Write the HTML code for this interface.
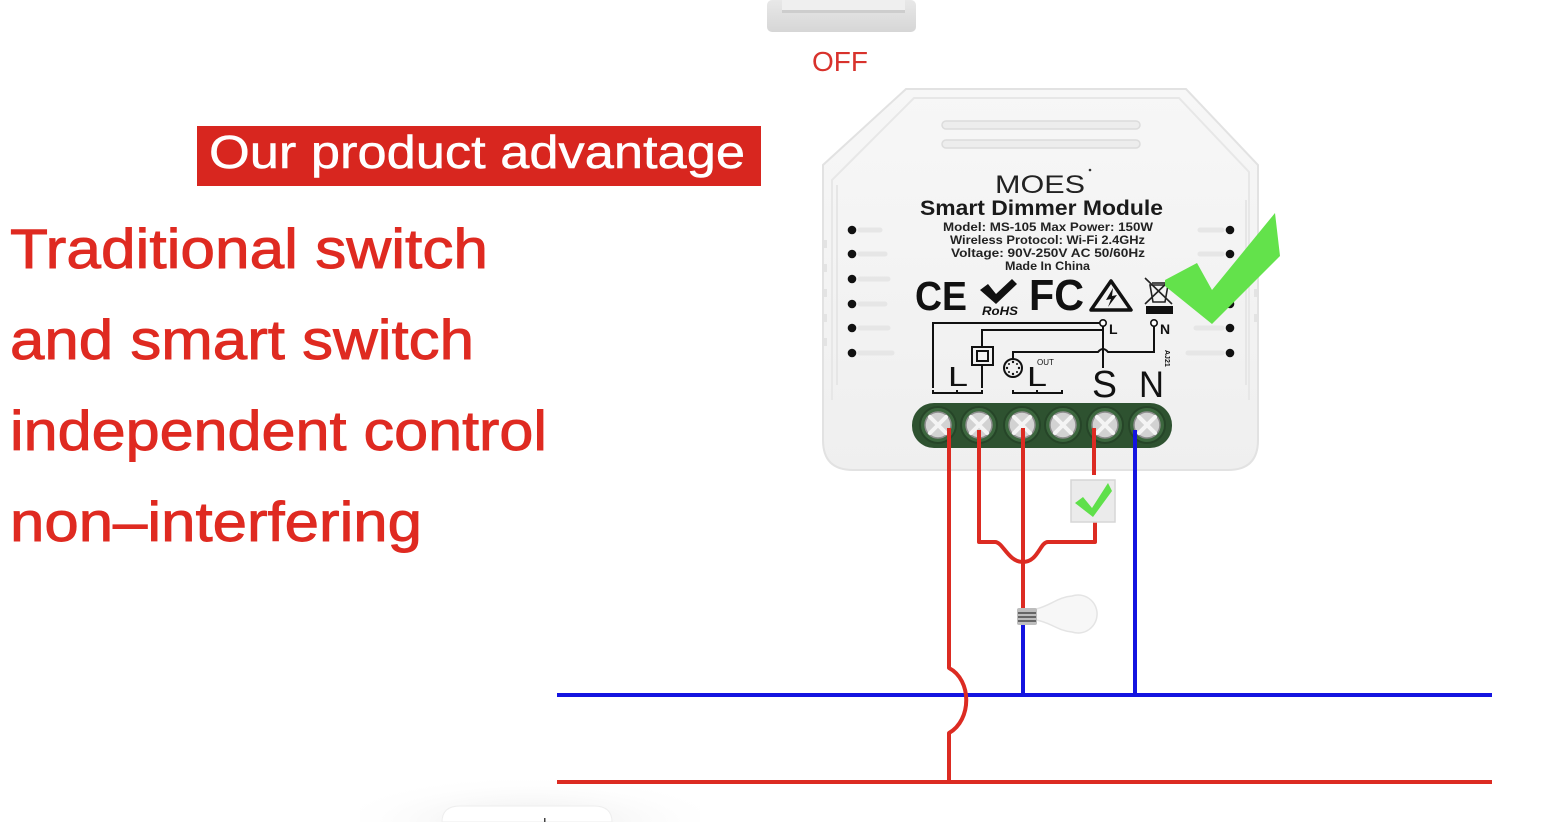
<!DOCTYPE html>
<html>
<head>
<meta charset="utf-8">
<style>
  html,body{margin:0;padding:0;background:#fff;}
  body{width:1552px;height:822px;overflow:hidden;}
  svg{display:block;}
  text{font-family:"Liberation Sans", Arial, sans-serif;}
</style>
</head>
<body>
<svg width="1552" height="822" viewBox="0 0 1552 822" xmlns="http://www.w3.org/2000/svg">
  <defs>
    <linearGradient id="body" x1="0" y1="0" x2="0" y2="1">
      <stop offset="0" stop-color="#f7f7f7"/>
      <stop offset="1" stop-color="#efefef"/>
    </linearGradient>
    <linearGradient id="plate" x1="0" y1="0" x2="0" y2="1">
      <stop offset="0" stop-color="#e8e8e8"/>
      <stop offset="1" stop-color="#d6d6d6"/>
    </linearGradient>
    <radialGradient id="glow" cx="0.5" cy="1" r="0.6">
      <stop offset="0" stop-color="#e9e9e9"/>
      <stop offset="1" stop-color="#ffffff" stop-opacity="0"/>
    </radialGradient>
  </defs>

  <rect x="0" y="0" width="1552" height="822" fill="#ffffff"/>

  <!-- top switch -->
  <rect x="767" y="0" width="149" height="32" rx="5" fill="url(#plate)"/>
  <rect x="782" y="0" width="123" height="13" fill="#efefef"/>
  <rect x="782" y="10" width="123" height="3" fill="#cdcdcd"/>
  <text x="812" y="71" font-size="28" fill="#d8322c" textLength="56" lengthAdjust="spacingAndGlyphs">OFF</text>

  <!-- banner -->
  <rect x="197" y="126" width="564" height="60" fill="#d8261f"/>
  <text x="209" y="168" font-size="46" fill="#ffffff" stroke="#ffffff" stroke-width="0.5" textLength="536" lengthAdjust="spacingAndGlyphs">Our product advantage</text>

  <!-- left text -->
  <g fill="#df2a21" stroke="#df2a21" stroke-width="0.9" font-size="56">
    <text x="10" y="268" textLength="478" lengthAdjust="spacingAndGlyphs">Traditional switch</text>
    <text x="10" y="359" textLength="464" lengthAdjust="spacingAndGlyphs">and smart switch</text>
    <text x="10" y="450" textLength="537" lengthAdjust="spacingAndGlyphs">independent control</text>
    <text x="10" y="541" textLength="412" lengthAdjust="spacingAndGlyphs">non–interfering</text>
  </g>

  <!-- module body -->
  <path d="M906,89 H1186 L1258,165 V440 Q1258,470 1228,470 H853 Q823,470 823,440 V165 Z" fill="url(#body)" stroke="#e2e2e2" stroke-width="2"/>
  <path d="M832,400 V180 L914,98 H1179 L1249,172 V400" fill="none" stroke="#e7e7e7" stroke-width="2"/>
  <line x1="837" y1="185" x2="837" y2="385" stroke="#e6e6e6" stroke-width="2"/>
  <line x1="1246" y1="200" x2="1246" y2="385" stroke="#e6e6e6" stroke-width="2"/>
  <g fill="#e3e3e3">
    <rect x="824" y="240" width="3" height="8"/><rect x="824" y="264" width="3" height="8"/>
    <rect x="824" y="289" width="3" height="8"/><rect x="824" y="314" width="3" height="8"/>
    <rect x="824" y="338" width="3" height="8"/>
    <rect x="1254" y="240" width="3" height="8"/><rect x="1254" y="289" width="3" height="8"/>
    <rect x="1254" y="314" width="3" height="8"/>
  </g>

  <!-- vent slots -->
  <rect x="942" y="121" width="198" height="8" rx="4" fill="#ededed" stroke="#dcdcdc" stroke-width="1.5"/>
  <rect x="942" y="140" width="198" height="8" rx="4" fill="#ededed" stroke="#dcdcdc" stroke-width="1.5"/>

  <!-- side slots & dots -->
  <g stroke="#e6e6e6" stroke-width="5" stroke-linecap="round">
    <line x1="860" y1="230" x2="880" y2="230"/><line x1="860" y1="254" x2="885" y2="254"/>
    <line x1="860" y1="279" x2="888" y2="279"/><line x1="860" y1="304" x2="885" y2="304"/>
    <line x1="860" y1="328" x2="888" y2="328"/><line x1="860" y1="353" x2="892" y2="353"/>
    <line x1="1200" y1="230" x2="1222" y2="230"/><line x1="1200" y1="254" x2="1222" y2="254"/>
    <line x1="1196" y1="304" x2="1222" y2="304"/><line x1="1196" y1="328" x2="1222" y2="328"/>
    <line x1="1188" y1="353" x2="1222" y2="353"/>
  </g>
  <g fill="#111">
    <circle cx="852" cy="230" r="4.3"/><circle cx="852" cy="254" r="4.3"/>
    <circle cx="852" cy="279" r="4.3"/><circle cx="852" cy="304" r="4.3"/>
    <circle cx="852" cy="328" r="4.3"/><circle cx="852" cy="353" r="4.3"/>
    <circle cx="1230" cy="230" r="4.3"/><circle cx="1230" cy="254" r="4.3"/>
    <circle cx="1230" cy="304" r="4.3"/><circle cx="1230" cy="328" r="4.3"/>
    <circle cx="1230" cy="353" r="4.3"/>
  </g>

  <!-- label text -->
  <text x="995" y="193" font-size="25" fill="#222" textLength="90" lengthAdjust="spacingAndGlyphs">MOES</text>
  <circle cx="1090" cy="170" r="1.3" fill="#333"/>
  <text x="920" y="215" font-size="21" font-weight="bold" fill="#1a1a1a" textLength="243" lengthAdjust="spacingAndGlyphs">Smart Dimmer Module</text>
  <g font-size="12" font-weight="bold" fill="#222">
    <text x="943" y="231" textLength="210" lengthAdjust="spacingAndGlyphs">Model: MS-105 Max Power: 150W</text>
    <text x="950" y="244" textLength="195" lengthAdjust="spacingAndGlyphs">Wireless Protocol: Wi-Fi 2.4GHz</text>
    <text x="951" y="257" textLength="194" lengthAdjust="spacingAndGlyphs">Voltage: 90V-250V AC 50/60Hz</text>
    <text x="1005" y="270" textLength="85" lengthAdjust="spacingAndGlyphs">Made In China</text>
  </g>

  <!-- cert icons -->
  <text x="915" y="310" font-size="41" font-weight="bold" fill="#111" textLength="52" lengthAdjust="spacingAndGlyphs">CE</text>
  <polygon points="980,290 988,284 996,294 1012,279 1017,284 996,304" fill="#111"/>
  <text x="982" y="315" font-size="12" font-weight="bold" font-style="italic" fill="#111" textLength="36" lengthAdjust="spacingAndGlyphs">RoHS</text>
  <text x="1029" y="310" font-size="44" font-weight="bold" fill="#111" textLength="55" lengthAdjust="spacingAndGlyphs">FC</text>
  <polygon points="1111,281 1131,310 1091,310" fill="none" stroke="#111" stroke-width="3.5" stroke-linejoin="round"/>
  <polygon points="1113,288 1106,300 1111,299 1108,307 1117,295 1112,296" fill="#111"/>
  <g stroke="#222" stroke-width="1.6" fill="none">
    <line x1="1145" y1="278" x2="1172" y2="304"/>
    <line x1="1172" y1="278" x2="1145" y2="304"/>
    <path d="M1150,285 H1168 L1165,302 H1153 Z"/>
    <line x1="1152" y1="283" x2="1166" y2="283"/>
  </g>
  <rect x="1146" y="306" width="27" height="8" fill="#111"/>

  <!-- wiring diagram on label -->
  <g stroke="#111" stroke-width="2" fill="none">
    <polyline points="933,388 933,323 1100,323"/>
    <polyline points="982,347 982,330 1103,330"/>
    <line x1="982" y1="365" x2="982" y2="388"/>
    <rect x="972" y="347" width="21" height="18"/>
    <rect x="977" y="351" width="11" height="10"/>
    <line x1="1103" y1="326" x2="1103" y2="368"/>
    <path d="M1013,359 V352 H1098 Q1103,346 1108,352 H1154 V326"/>
    <circle cx="1013" cy="368" r="9"/>
    <polyline points="933,390 933,393 982,393 982,390"/>
    <line x1="957" y1="393" x2="957" y2="390"/>
    <polyline points="1013,390 1013,393 1062,393 1062,390"/>
    <line x1="1037" y1="393" x2="1037" y2="390"/>
  </g>
  <circle cx="1103" cy="323" r="3.2" fill="#fff" stroke="#111" stroke-width="1.6"/>
  <circle cx="1154" cy="323" r="3.2" fill="#fff" stroke="#111" stroke-width="1.6"/>
  <g fill="#111">
    <circle cx="1013" cy="362" r="1.2"/><circle cx="1013" cy="374" r="1.2"/>
    <circle cx="1007" cy="368" r="1.2"/><circle cx="1019" cy="368" r="1.2"/>
    <circle cx="1009" cy="364" r="1"/><circle cx="1017" cy="364" r="1"/>
    <circle cx="1009" cy="372" r="1"/><circle cx="1017" cy="372" r="1"/>
  </g>
  <g fill="#111">
    <text x="1109" y="334" font-size="14" font-weight="bold">L</text>
    <text x="1160" y="334" font-size="14" font-weight="bold">N</text>
    <text x="948" y="386" font-size="28" textLength="20" lengthAdjust="spacingAndGlyphs">L</text>
    <text x="1027" y="386" font-size="28" textLength="20" lengthAdjust="spacingAndGlyphs">L</text>
    <text x="1037" y="365" font-size="8">OUT</text>
    <text x="1092" y="397" font-size="38" textLength="25" lengthAdjust="spacingAndGlyphs">S</text>
    <text x="1139" y="397" font-size="37" textLength="25" lengthAdjust="spacingAndGlyphs">N</text>
    <text x="0" y="0" font-size="7" font-weight="bold" transform="translate(1165,350) rotate(90)">AJ21</text>
  </g>

  <!-- terminal block -->
  <rect x="912" y="403" width="260" height="45" rx="22" fill="#2e5230"/>
  <g fill="#3c673e" stroke="#264528" stroke-width="2">
    <circle cx="938" cy="425" r="18"/>
    <circle cx="979" cy="425" r="18"/>
    <circle cx="1022" cy="425" r="18"/>
    <circle cx="1063" cy="425" r="18"/>
    <circle cx="1105" cy="425" r="18"/>
    <circle cx="1147" cy="425" r="18"/>
  </g>
  <g fill="#d2d2d2" stroke="#8d8d8d" stroke-width="1.5">
    <circle cx="938" cy="425" r="13"/><circle cx="979" cy="425" r="13"/>
    <circle cx="1022" cy="425" r="13"/><circle cx="1063" cy="425" r="13"/>
    <circle cx="1105" cy="425" r="13"/><circle cx="1147" cy="425" r="13"/>
  </g>
  <g stroke="#f4f4f4" stroke-width="4" stroke-linecap="round">
    <path d="M930,417 L946,433 M946,417 L930,433"/>
    <path d="M971,417 L987,433 M987,417 L971,433"/>
    <path d="M1014,417 L1030,433 M1030,417 L1014,433"/>
    <path d="M1055,417 L1071,433 M1071,417 L1055,433"/>
    <path d="M1097,417 L1113,433 M1113,417 L1097,433"/>
    <path d="M1139,417 L1155,433 M1155,417 L1139,433"/>
  </g>

  <!-- big green check -->
  <polygon points="1165,280 1197,263 1212,290 1275,213 1280,256 1212,324 1165,286" fill="#63e24b"/>

  <!-- bottom-left faint element -->
  <rect x="360" y="742" width="340" height="80" fill="url(#glow)"/>
  <path d="M442,822 V824 M442,822 V822 Q442,806 460,806 H594 Q612,806 612,822 Z" fill="#ffffff" stroke="#eeeeee" stroke-width="1"/>
  <rect x="544" y="818" width="1.5" height="4" fill="#444"/>

  <!-- mains lines -->
  <line x1="557" y1="695" x2="1492" y2="695" stroke="#1414e0" stroke-width="4"/>
  <line x1="557" y1="782" x2="1492" y2="782" stroke="#dc2b22" stroke-width="4"/>

  <!-- wires -->
  <g fill="none" stroke-width="4" stroke-linejoin="round">
    <path d="M949,428 V668 C972,680 972,720 949,733 V782" stroke="#dc2b22"/>
    <path d="M979,430 V542 H995 C1003,542 1008,562 1023,562 C1038,562 1040,542 1048,542 H1095 V522" stroke="#dc2b22"/>
    <path d="M1023,428 V610" stroke="#dc2b22"/>
    <path d="M1094,428 V475" stroke="#dc2b22"/>
    <path d="M1135,430 V695" stroke="#1414e0"/>
    <path d="M1023,624 V695" stroke="#1414e0"/>
  </g>

  <!-- small checkbox -->
  <rect x="1071" y="480" width="44" height="42" fill="#ebebeb" stroke="#d6d6d6" stroke-width="1.5"/>
  <polygon points="1075,503 1083,497 1092,508 1108,483 1112,491 1093,517" fill="#5fe04a"/>

  <!-- bulb -->
  <path d="M1036,609 C1050,606 1058,597 1072,596 A19,19 0 1 1 1072,632 C1058,631 1050,622 1036,620 Z" fill="#f7f7f7" stroke="#e4e4e4" stroke-width="1.5"/>
  <rect x="1017" y="608" width="20" height="17" rx="2" fill="#bdbdbd"/>
  <g stroke="#4a4a4a" stroke-width="1.6">
    <line x1="1018" y1="613" x2="1036" y2="613"/>
    <line x1="1018" y1="617" x2="1036" y2="617"/>
    <line x1="1018" y1="621" x2="1036" y2="621"/>
  </g>
</svg>
</body>
</html>
